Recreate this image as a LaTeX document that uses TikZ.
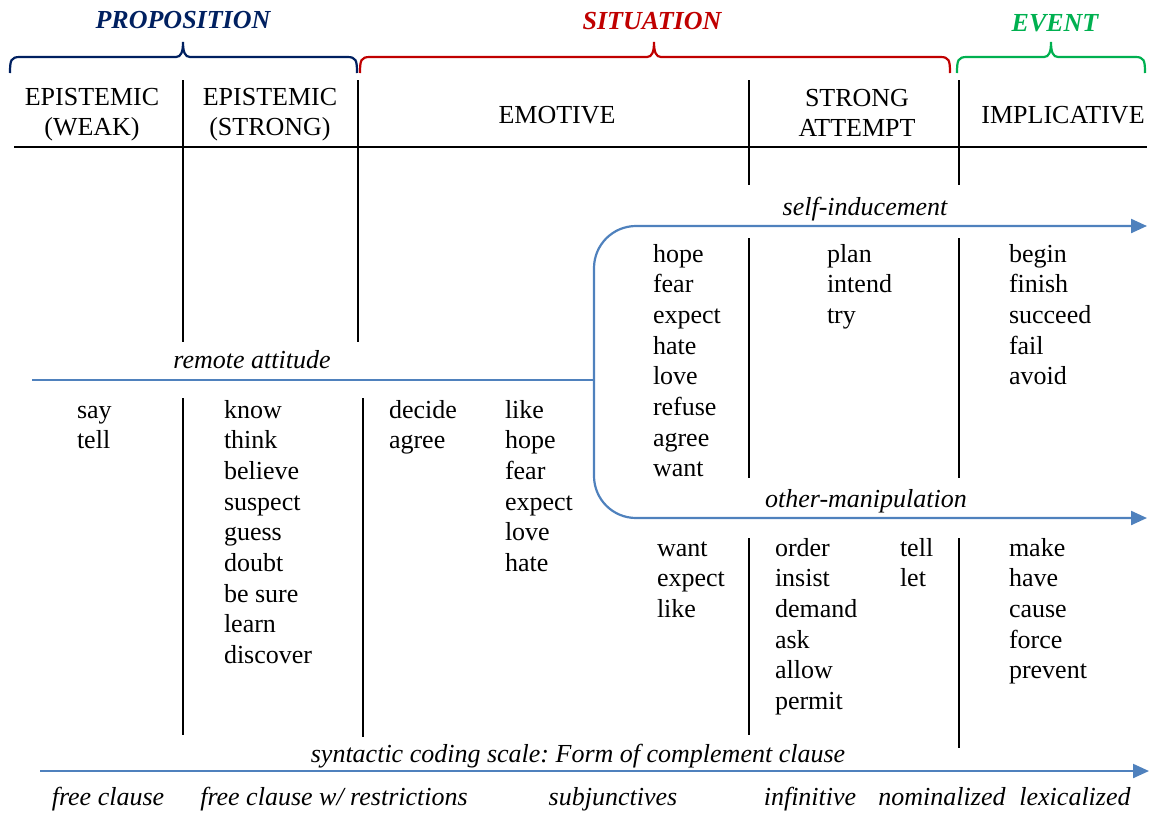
\documentclass[tikz,border=0pt]{standalone}
\usepackage{fontspec}
\setmainfont{Liberation Serif}
\usetikzlibrary{arrows.meta}
\definecolor{propblue}{RGB}{0,32,96}
\definecolor{sitred}{RGB}{192,0,0}
\definecolor{evgreen}{RGB}{0,176,80}
\definecolor{scaleblue}{RGB}{79,129,189}
\frenchspacing
\begin{document}
\begin{tikzpicture}[x=1pt,y=-1pt,
  every node/.style={font=\fontsize{26}{30.7}\selectfont, inner sep=0pt, outer sep=0pt},
  word/.style={anchor=base west},
  hd/.style={anchor=base},
  lab/.style={font=\fontsize{26}{30.7}\selectfont\itshape, anchor=base},
  cat/.style={font=\fontsize{26}{30}\selectfont\bfseries\itshape, anchor=base},
  rule/.style={line width=1.6pt, draw=black},
  scaleline/.style={draw=scaleblue, line width=2.2pt},
  arrowline/.style={scaleline, -{Triangle[length=16pt,width=14pt]}},
  bracepath/.style={line width=2.2pt}
]
\useasboundingbox (0,0) rectangle (1150,812);

% category labels and braces
\node[cat, text=propblue] (propo) at (183,28) {PROPOSITION};
\node[cat, text=sitred] (situ) at (652,29) {SITUATION};
\node[cat, text=evgreen] (even) at (1055,31) {EVENT};
\foreach \a/\t/\b/\c in {10/183/357/propblue, 360/654/950/sitred, 957/1051/1145/evgreen}{
  \draw[bracepath, draw=\c] (\a,73) .. controls (\a,60) and ({\a+1},57) .. ({\a+10},57)
    -- ({\t-7},57) .. controls ({\t-2},57) and (\t,52) .. (\t,42)
    .. controls (\t,52) and ({\t+2},57) .. ({\t+7},57)
    -- ({\b-10},57) .. controls ({\b-1},57) and (\b,60) .. (\b,73);
}

% header
\node[hd] (h1a) at (92,105) {EPISTEMIC};
\node[hd] (h1b) at (92,135) {(WEAK)};
\node[hd] (h2a) at (270,105) {EPISTEMIC};
\node[hd] (h2b) at (270,135) {(STRONG)};
\node[hd] (h3) at (557,123) {EMOTIVE};
\node[hd] (h4a) at (857,106) {STRONG};
\node[hd] (h4b) at (857,136) {ATTEMPT};
\node[hd] (h5) at (1063,123) {IMPLICATIVE};

\draw[rule] (14,147) -- (1147,147);
\draw[rule] (183,80) -- (183,342);
\draw[rule] (358,80) -- (358,342);
\draw[rule] (749,80) -- (749,185);
\draw[rule] (959,80) -- (959,185);

% lower column rules
\draw[rule] (183,398) -- (183,735);
\draw[rule] (363,398) -- (363,737);
\draw[rule] (749,238) -- (749,478);
\draw[rule] (959,238) -- (959,478);
\draw[rule] (749,538) -- (749,735);
\draw[rule] (959,538) -- (959,748);

% blue scale lines
\coordinate (ra0) at (32,380);
\coordinate (ra1) at (594,380);
\coordinate (si1) at (1147,226);
\coordinate (om1) at (1147,518);
\coordinate (sc0) at (40,771);
\coordinate (sc1) at (1149,771);
\draw[scaleline] (ra0) -- (ra1);
\draw[arrowline, rounded corners=42pt] (ra1) |- (si1);
\draw[arrowline, rounded corners=42pt] (ra1) |- (om1);
\draw[arrowline] (sc0) -- (sc1);

% italic labels
\node[lab] (remote) at (252,368) {remote attitude};
\node[lab] (selfind) at (865,215) {self-inducement};
\node[lab] (othman) at (866,507) {other-manipulation};
\node[lab] (syncod) at (578,762) {syntactic coding scale: Form of complement clause};
\node[lab] (f1) at (108,805) {free clause};
\node[lab] (f2) at (334,805) {free clause w/ restrictions};
\node[lab] (f3) at (613,805) {subjunctives};
\node[lab] (f4) at (810,805) {infinitive};
\node[lab] (f5) at (942,805) {nominalized};
\node[lab] (f6) at (1075,805) {lexicalized};

% word lists
\foreach \w [count=\i] in {say,tell}
  \node[word] (wa\i) at (77,{418+(\i-1)*30.7}) {\w};
\foreach \w [count=\i] in {know,think,believe,suspect,guess,doubt,be sure,learn,discover}
  \node[word] (wb\i) at (224,{418+(\i-1)*30.7}) {\w};
\foreach \w [count=\i] in {decide,agree}
  \node[word] (wc\i) at (389,{418+(\i-1)*30.7}) {\w};
\foreach \w [count=\i] in {like,hope,fear,expect,love,hate}
  \node[word] (wd\i) at (505,{418+(\i-1)*30.7}) {\w};
\foreach \w [count=\i] in {hope,fear,expect,hate,love,refuse,agree,want}
  \node[word] (we\i) at (653,{262+(\i-1)*30.7}) {\w};
\foreach \w [count=\i] in {plan,intend,try}
  \node[word] (wf\i) at (827,{262+(\i-1)*30.7}) {\w};
\foreach \w [count=\i] in {begin,finish,succeed,fail,avoid}
  \node[word] (wg\i) at (1009,{262+(\i-1)*30.7}) {\w};
\foreach \w [count=\i] in {want,expect,like}
  \node[word] (wh\i) at (657,{556+(\i-1)*30.7}) {\w};
\foreach \w [count=\i] in {order,insist,demand,ask,allow,permit}
  \node[word] (wi\i) at (775,{556+(\i-1)*30.7}) {\w};
\foreach \w [count=\i] in {tell,let}
  \node[word] (wj\i) at (900,{556+(\i-1)*30.7}) {\w};
\foreach \w [count=\i] in {make,have,cause,force,prevent}
  \node[word] (wk\i) at (1009,{556+(\i-1)*30.7}) {\w};
\end{tikzpicture}
\end{document}
